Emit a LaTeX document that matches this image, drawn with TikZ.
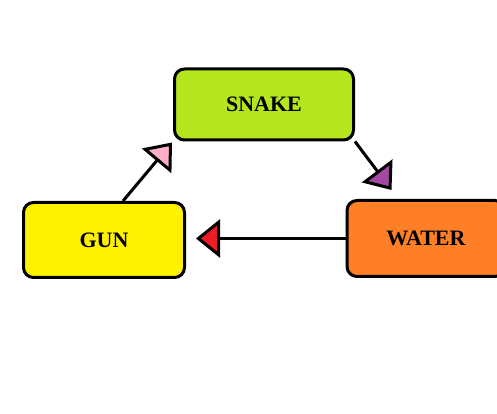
\documentclass[tikz,border=0pt]{standalone}
\usepackage{fontspec}
\setmainfont{Liberation Serif}
\usetikzlibrary{arrows.meta,backgrounds}
\definecolor{snakegreen}{HTML}{B5E61D}
\definecolor{gunyellow}{HTML}{FFF200}
\definecolor{waterorange}{HTML}{FF7F27}
\definecolor{tippink}{HTML}{FFAEC9}
\definecolor{tippurple}{HTML}{A349A4}
\definecolor{tipred}{HTML}{ED1C24}

\begin{document}
\begin{tikzpicture}[x=1pt,y=1pt,
  box/.style={draw,line width=3pt,rounded corners=10pt,minimum width=179pt,minimum height=71pt,
    font=\fontsize{22}{24}\selectfont\bfseries},
  link/.style={line width=3pt},
  tip/.style={-{Triangle[length=24pt,width=38pt,fill=#1]}}]
\clip (0,0) rectangle (497,414);
\useasboundingbox (0,0) rectangle (497,414);
\node (snake) [box,fill=snakegreen] at (264,309.5) {SNAKE};
\node (gun) [box,fill=gunyellow,minimum width=161pt,minimum height=75pt] at (104,174) {GUN};
\node (water) [box,fill=waterorange,minimum width=158pt,minimum height=76pt] at (426,175.5) {WATER};
\begin{scope}[on background layer]
\draw[link,tip=tippink] ([xshift=19pt]gun.north) -- ([shift={(-1pt,-1pt)}]snake.south west);
\draw[link,tip=tippurple] (snake.south east) -- ([shift={(46pt,9pt)}]water.north west);
\draw[link,tip=tipred,shorten >=10pt] (water.west) -- (water.west -| gun.east);
\end{scope}
\end{tikzpicture}
\end{document}
